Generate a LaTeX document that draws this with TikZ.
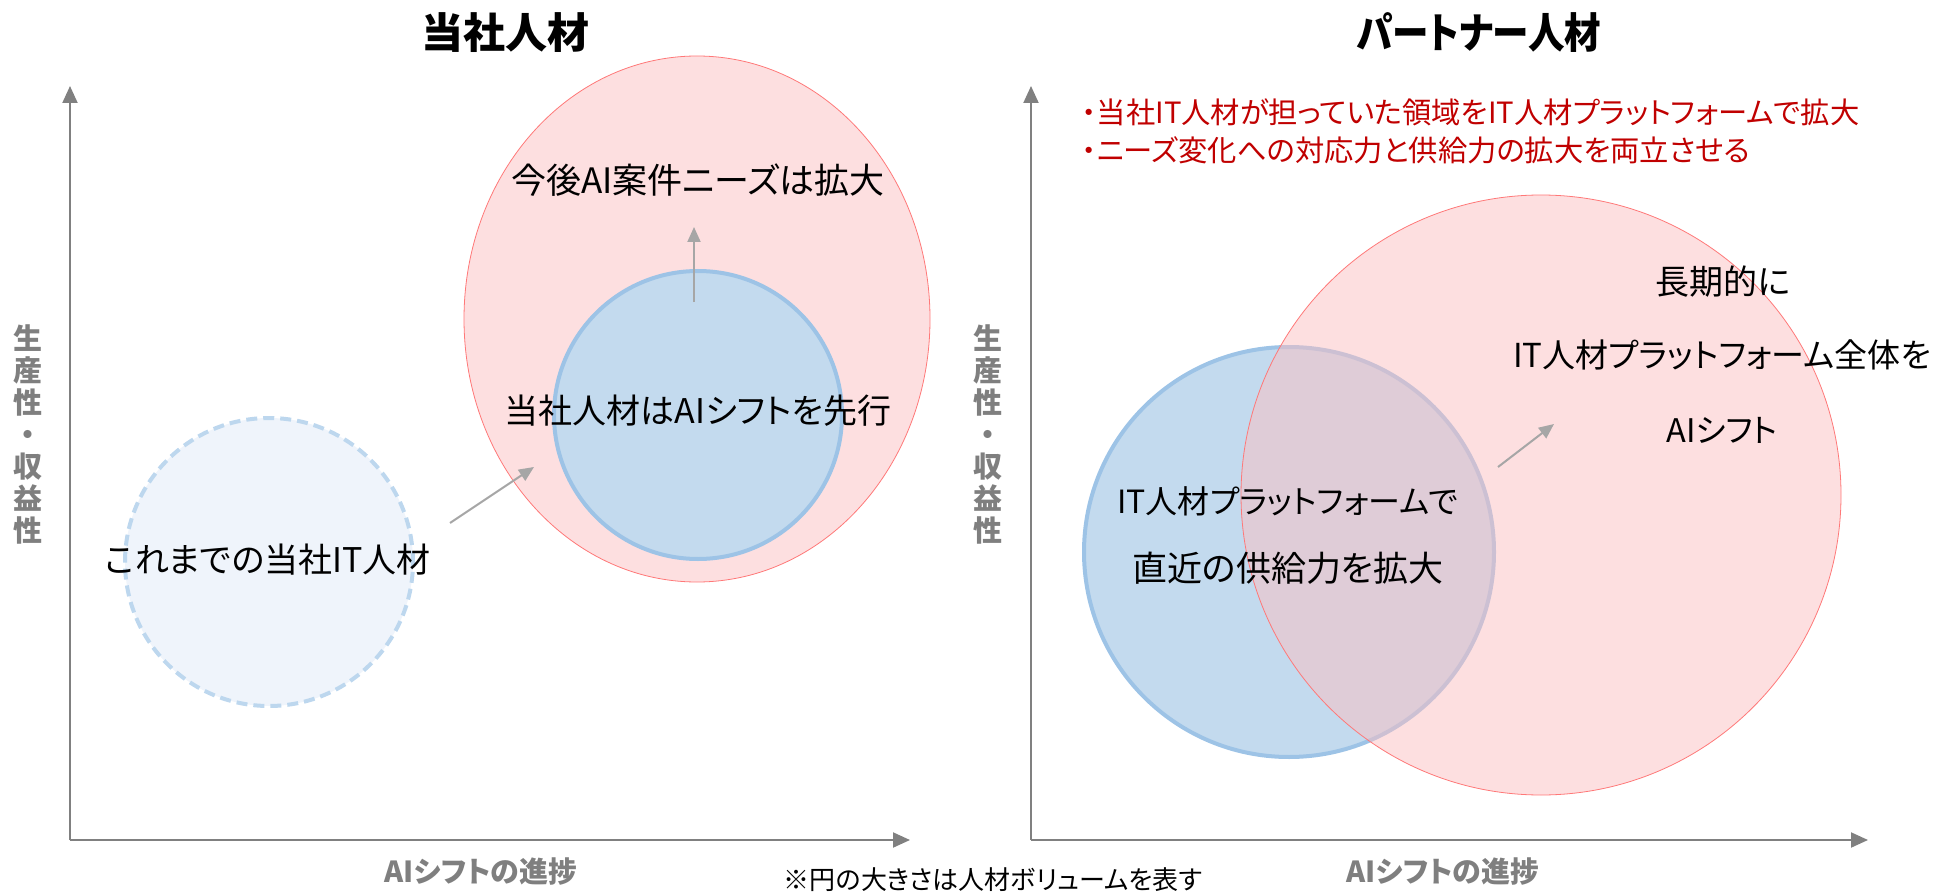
\documentclass[tikz,border=0pt]{standalone}
\usepackage{fontspec}
\setmainfont{Noto Sans CJK JP}[RawFeature=+palt]
\newfontfamily\narrowjp{Noto Sans CJK JP}[RawFeature=+palt, FakeStretch=0.87]
\usetikzlibrary{arrows.meta,shapes.geometric}
\definecolor{pinkfill}{RGB}{251,191,193}
\definecolor{pinkline}{RGB}{255,120,120}
\definecolor{bluefill}{RGB}{195,218,238}
\definecolor{blueline}{RGB}{157,195,230}
\definecolor{dashfill}{RGB}{239,244,251}
\definecolor{dashline}{RGB}{189,215,238}
\definecolor{axisgray}{RGB}{128,128,128}
\definecolor{labelgray}{RGB}{127,127,127}
\definecolor{arrowgray}{RGB}{166,166,166}
\definecolor{notered}{RGB}{192,0,0}
\begin{document}
\begin{tikzpicture}[x=1pt,y=-1pt,
  pinkblob/.style={ellipse, draw=pinkline, line width=0.8pt, fill=pinkfill, fill opacity=0.5, inner sep=0pt},
  blueblob/.style={circle, draw=blueline, line width=4pt, fill=bluefill, inner sep=0pt},
  dashblob/.style={circle, draw=dashline, line width=4pt, fill=dashfill, dash pattern=on 11pt off 6pt, inner sep=0pt},
  body/.style={inner sep=0pt, text=black, font=\fontsize{34}{40}\selectfont},
  bodykana/.style={inner sep=0pt, text=black, font=\fontsize{32.5}{40}\selectfont},
  titletext/.style={inner sep=0pt, text=black, font=\fontsize{42}{48}\selectfont\bfseries},
  titlenarrow/.style={inner sep=0pt, text=black, font=\narrowjp\fontsize{42}{48}\selectfont\bfseries},
  axislabel/.style={inner sep=0pt, text=labelgray, font=\fontsize{29}{32}\selectfont\bfseries},
  redtext/.style={inner sep=0pt, text=notered, anchor=west, font=\fontsize{29.3}{33}\selectfont},
  notetext/.style={inner sep=0pt, text=black, font=\fontsize{26}{30}\selectfont},
  axisline/.style={draw=axisgray, line width=2pt, -{Triangle[length=17pt,width=15pt]}},
  pointer/.style={draw=arrowgray, line width=2pt, -{Triangle[length=15pt,width=13pt]}}
]
\useasboundingbox (0,0) rectangle (1935,893);

% ---------------- left panel ----------------
\node[titletext] (t1) at (505,33) {当社人材};
\coordinate (lo) at (70,840);
\coordinate (lytop) at (70,86);
\coordinate (lxend) at (910,840);
\draw[axisline] (lo) -- (lytop);
\draw[axisline] (lo) -- (lxend);
\node[axislabel, align=center] (ly) at (28,434) {生\\産\\性\\・\\収\\益\\性};
\node[axislabel] (lx) at (481,872) {AIシフトの進捗};

\node[pinkblob, minimum width=466pt, minimum height=526pt] (lpink) at (697,319) {};
\node[blueblob, minimum size=288pt] (lblue) at (698,415) {};
\node[dashblob, minimum size=288pt] (ldash) at (269,562) {};

\node[body, font=\fontsize{35}{40}\selectfont] (l1) at (698,180) {今後AI案件ニーズは拡大};
\node[body] (l2) at (698,411) {当社人材はAIシフトを先行};
\node[body] (l3) at (268,560) {これまでの当社IT人材};

\coordinate (a1s) at (450,523);
\coordinate (a1e) at (534,467);
\draw[pointer] (a1s) -- (a1e);
\coordinate (a2s) at (694,302);
\coordinate (a2e) at (694,227);
\draw[pointer] (a2s) -- (a2e);

% ---------------- right panel ----------------
\node[titlenarrow] (t2) at (1479,33) {パートナー人材};
\coordinate (ro) at (1031,840);
\coordinate (rytop) at (1031,86);
\coordinate (rxend) at (1868,840);
\draw[axisline] (ro) -- (rytop);
\draw[axisline] (ro) -- (rxend);
\node[axislabel, align=center] (ry) at (988,434) {生\\産\\性\\・\\収\\益\\性};
\node[axislabel] (rx) at (1443,872) {AIシフトの進捗};

\node[redtext] (r1) at (1082,112) {・当社IT人材が担っていた領域をIT人材プラットフォームで拡大};
\node[redtext] (r2) at (1082,150) {・ニーズ変化への対応力と供給力の拡大を両立させる};

\node[blueblob, minimum size=410pt] (rblue) at (1289,552) {};
\node[pinkblob, minimum size=600pt] (rpink) at (1541,495) {};

\node[body] (r3) at (1723,282) {長期的に};
\node[bodykana, font=\fontsize{33}{40}\selectfont] (r4) at (1722,355) {IT人材プラットフォーム全体を};
\node[bodykana] (r5) at (1722,430) {AIシフト};
\node[bodykana, font=\fontsize{32}{40}\selectfont] (r6) at (1288,501) {IT人材プラットフォームで};
\node[body, font=\fontsize{35}{40}\selectfont] (r7) at (1288,568) {直近の供給力を拡大};

\coordinate (a3s) at (1498,467);
\coordinate (a3e) at (1554,424);
\draw[pointer] (a3s) -- (a3e);

\node[notetext] (note) at (993,880) {※円の大きさは人材ボリュームを表す};
\end{tikzpicture}
\end{document}
